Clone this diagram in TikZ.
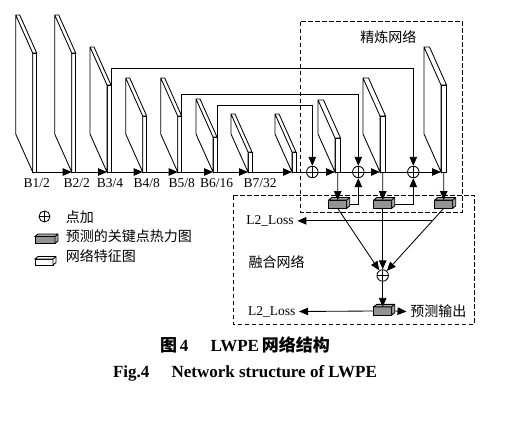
\documentclass[tikz,border=0pt]{standalone}
\usepackage{fontspec}
\setmainfont{Liberation Serif}
\newfontfamily\cjk{Noto Sans CJK SC}
\usetikzlibrary{arrows.meta}

\newcommand{\slab}[4]{\node[face, minimum width=#4pt, minimum height=#3pt] (#1) at (#2,172) {};
\draw[fill=white] (#1.south west) -- ++(-17,-38) -- ++(0,-#3) -- ++(#4,0) -- (#1.north east) -- (#1.north west) -- cycle (#1.north west) -- ++(-17,-38);}
\newcommand{\hcube}[6]{\node[draw, fill=#5, inner sep=0, outer sep=0, minimum width=#3pt, minimum height=#4pt] (#1) at (#2) {};
\draw[fill=#6] (#1.north west) -- ++(3,-2.5) -- ++(#3,0) -- ++(0,#4) -- (#1.south east) -- (#1.north east) -- cycle (#1.north east) -- ++(3,-2.5);}

\begin{document}
\begin{tikzpicture}[x=1pt, y=-1pt, line width=0.85pt, font=\fontsize{13.5}{16}\selectfont,
  face/.style={draw, fill=white, inner sep=0, outer sep=0, anchor=south west},
  addnode/.style={circle, draw, fill=white, minimum size=11.5pt, inner sep=0,
    path picture={\draw (path picture bounding box.north) -- (path picture bounding box.south)
      (path picture bounding box.west) -- (path picture bounding box.east);}},
  arr/.style={-{Triangle[length=9pt,width=7.5pt]}},
  region/.style={draw, dash pattern=on 4.5pt off 2.5pt},
  zh/.style={font=\cjk\fontsize{14}{16}\selectfont}]
\useasboundingbox (0,0) rectangle (510,422);
\draw[region] (300.7,21.7) rectangle (462.7,212.3);
\draw[region] (233,195.5) rectangle (474.3,324);
\node[zh] (refine) at (388.3,37.3) {精炼网络};
\node[zh] (fusion) at (276.7,261.7) {融合网络};
\slab{b1}{32.7}{119}{4}
\slab{b2}{71.7}{119}{4}
\slab{b3}{107}{87}{4}
\slab{b4}{142.7}{56}{4}
\slab{b5}{177.7}{56}{4}
\slab{b6}{213}{35}{4}
\slab{b7}{248}{20}{4}
\slab{b8}{292}{20}{4}
\foreach \i/\j in {1/2,2/3,3/4,4/5,5/6,6/7,7/8} \draw[arr] (b\i.south east) -- (b\j.south west);
\foreach \n/\x/\t in {1/36.7/{B1/2},2/76.7/{B2/2},3/110/{B3/4},4/146.7/{B4/8},5/181.7/{B5/8},6/216.7/{B6/16},7/260/{B7/32}}
  \node (lb\n) at (\x,183.5) {\t};
\node[addnode] (p1) at (312.3,172) {};
\node[addnode] (p2) at (358.3,172) {};
\node[addnode] (p3) at (413.3,172) {};
\slab{r1}{335}{34}{5.5}
\slab{r2}{380}{56}{5.5}
\slab{r3}{441}{87}{5.5}
\draw[arr] (b6.north east) -- ++(0,-32) -| (p1.north);
\draw[arr] (b5.north east) -- ++(0,-22) -| (p2.north);
\draw[arr] (b3.north east) -- ++(0,-17) -| (p3.north);
\draw (b8.south east) -- (p1);
\draw[arr] (p1) -- (r1.south west);
\draw (r1.south east) -- (p2);
\draw[arr] (p2) -- (r2.south west);
\draw (r2.south east) -- (p3);
\draw[arr] (p3) -- (r3.south west);
\hcube{h1}{337.7,204.2}{18}{8.3}{gray!85}{gray!70}
\hcube{h2}{382.7,204.2}{18}{8.3}{gray!85}{gray!70}
\hcube{h3}{443.7,204.2}{18}{8.3}{gray!85}{gray!70}
\draw[arr] (r1.south) -- (h1.north);
\draw[arr] (r2.south) -- (h2.north);
\draw[arr] (r3.south) -- (h3.north);
\draw[arr] ([xshift=3pt]h1.east) -| (p2.south);
\draw[arr] ([xshift=3pt]h2.east) -| (p3.south);
\node[addnode] (fuse) at (382.7,275.5) {};
\draw[arr] (h1.south) -- (fuse);
\draw[arr] (h2.south) -- (fuse);
\draw[arr] (h3.south) -- (fuse);
\path (h3.south) -- (fuse) coordinate[pos=0.2] (tap);
\node (loss1) at (270,221) {L2\_Loss};
\draw[arr] (tap) -- (tap -| loss1.east);
\hcube{out}{382.7,311}{18}{8.3}{gray!85}{gray!70}
\draw[arr] (fuse) -- (out.north);
\node (loss2) at (271.7,311.5) {L2\_Loss};
\node[zh] (pred) at (438.3,311.5) {预测输出};
\draw[arr] (out.west) -- (loss2.east);
\draw[arr] ([xshift=3pt]out.east) -- (pred.west);
\node[addnode, minimum size=11pt] (key1) at (44.5,216.5) {};
\node[zh, anchor=west] (txt1) at (62,216.7) {点加};
\hcube{key2}{45,240}{20}{7}{gray!85}{gray!70}
\node[zh, anchor=west] (txt2) at (62,236.5) {预测的关键点热力图};
\hcube{key3}{44,262}{18}{6}{white}{white}
\node[zh, anchor=west] (txt3) at (62,256.5) {网络特征图};
\node[font=\fontsize{17}{20}\selectfont\bfseries] (cap1) at (245,345) {{\cjk 图}\,4\hspace{1.3em}LWPE\,{\cjk 网络结构}};
\node[font=\fontsize{17}{20}\selectfont\bfseries] (cap2) at (245,373.3) {Fig.4\hspace{1.3em}Network structure of LWPE};
\end{tikzpicture}
\end{document}
